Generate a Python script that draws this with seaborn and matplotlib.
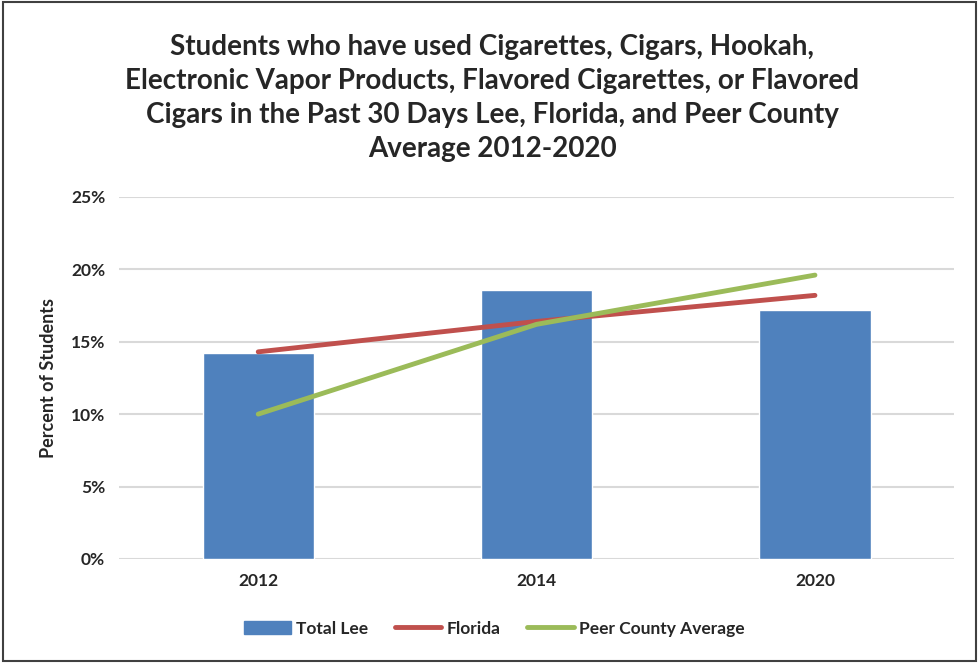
import matplotlib.pyplot as plt
import numpy as np
import pandas as pd
import seaborn as sns
from matplotlib.lines import Line2D
from matplotlib.patches import Patch, Rectangle
from matplotlib.ticker import FuncFormatter

# Data (percent of students)
years = ["2012", "2014", "2020"]
total_lee = [14.2, 18.6, 17.2]
florida = [14.3, 16.4, 18.2]
peer_avg = [10.0, 16.2, 19.6]

BLUE = "#4F81BD"
RED = "#C0504D"
GREEN = "#9BBB59"

sns.set_theme(style="white")
plt.rcParams["font.family"] = ["Lato", "DejaVu Sans"]

df = pd.DataFrame({"year": years, "Total Lee": total_lee,
                   "Florida": florida, "Peer County Average": peer_avg})
df["pos"] = np.arange(len(df))

fig = plt.figure(figsize=(9.79, 6.63), dpi=100)
ax = fig.add_axes([0.1216, 0.157, 0.853, 0.546])

sns.barplot(data=df, x="year", y="Total Lee", color=BLUE, width=0.4,
            saturation=1, ax=ax, zorder=2)
sns.lineplot(data=df, x="pos", y="Florida", color=RED, linewidth=3.5,
             ax=ax, zorder=3, solid_capstyle="round")
sns.lineplot(data=df, x="pos", y="Peer County Average", color=GREEN,
             linewidth=3.5, ax=ax, zorder=4, solid_capstyle="round")

ax.set_xlim(-0.5, len(years) - 0.5)
ax.set_ylim(0, 25)
ax.set_yticks([0, 5, 10, 15, 20, 25])
ax.yaxis.set_major_formatter(FuncFormatter(lambda v, _: f"{v:.0f}%"))
ax.set_xticks(df["pos"])
ax.set_xticklabels(years)
ax.grid(axis="y", color="#D9D9D9", linewidth=1.5, zorder=0)
ax.set_axisbelow(True)
for s in ax.spines.values():
    s.set_visible(False)
ax.tick_params(axis="both", length=0, labelsize=12.5, pad=10)
for lbl in ax.get_xticklabels() + ax.get_yticklabels():
    lbl.set_fontweight("bold")
ax.set_xlabel("")
ax.set_ylabel("Percent of Students", fontsize=13, fontweight="bold", labelpad=10)

fig.text(0.503, 0.852,
         "Students who have used Cigarettes, Cigars, Hookah,\n"
         "Electronic Vapor Products, Flavored Cigarettes, or Flavored\n"
         "Cigars in the Past 30 Days Lee, Florida, and Peer County\n"
         "Average 2012-2020",
         ha="center", va="center", fontsize=20, fontweight="bold",
         linespacing=1.38)

handles = [Patch(facecolor=BLUE, edgecolor=BLUE),
           Line2D([], [], color=RED, linewidth=3.5, solid_capstyle="round"),
           Line2D([], [], color=GREEN, linewidth=3.5, solid_capstyle="round")]
fig.legend(handles, ["Total Lee", "Florida", "Peer County Average"],
           loc="center", bbox_to_anchor=(0.505, 0.052), ncol=3, frameon=False,
           prop={"weight": "bold", "size": 12.5}, handlelength=2.7,
           handletextpad=0.3, columnspacing=1.5)

fig.patches.append(Rectangle((0.003, 0.003), 0.994, 0.994, transform=fig.transFigure,
                             fill=False, edgecolor="#404040", linewidth=1.5))

fig.savefig("out.png", dpi=100)
